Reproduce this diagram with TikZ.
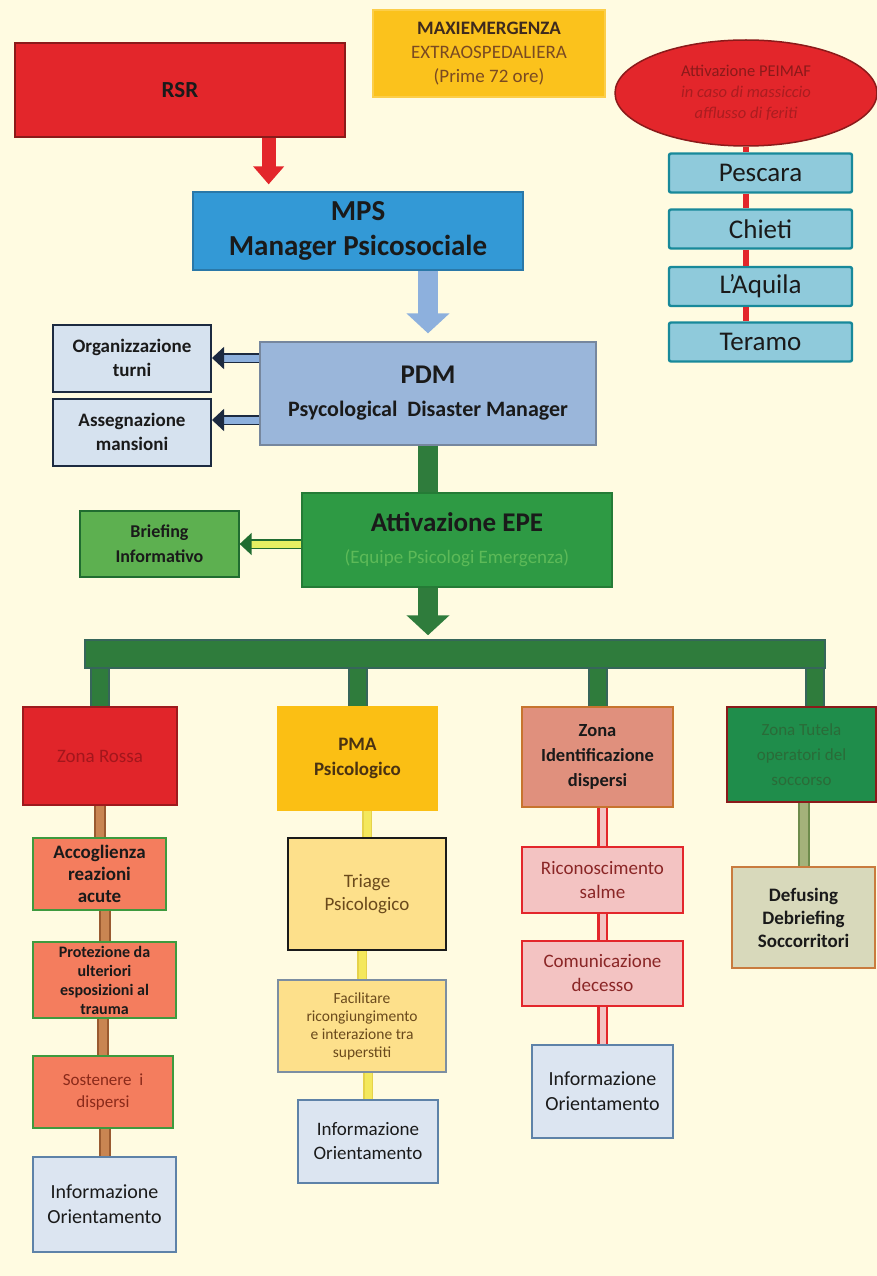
\documentclass[tikz,border=0pt]{standalone}
\usepackage{fontspec}
\setmainfont{Carlito}
\usepackage{tikz}
\usetikzlibrary{arrows.meta,positioning,shapes,calc}
\definecolor{paper}{HTML}{FFFBE1}
\definecolor{ink}{HTML}{1A1A1A}
\definecolor{rsrred}{HTML}{E3262B}
\definecolor{darkred}{HTML}{8B1A1A}
\definecolor{titleyel}{HTML}{FBC21C}
\definecolor{titleink}{HTML}{3E2A1E}
\definecolor{titlebrown}{HTML}{7A4A22}
\definecolor{mpsblue}{HTML}{3399D6}
\definecolor{mpsedge}{HTML}{2A78A8}
\definecolor{pdmblue}{HTML}{9AB6DA}
\definecolor{pdmedge}{HTML}{76879E}
\definecolor{arrowblue}{HTML}{8DB0DD}
\definecolor{paleblue}{HTML}{D6E2EF}
\definecolor{navy}{HTML}{1C2A40}
\definecolor{epegreen}{HTML}{2E9A44}
\definecolor{epetxt}{HTML}{5DBA58}
\definecolor{brfgreen}{HTML}{5DB050}
\definecolor{briefyel}{HTML}{E6F062}
\definecolor{bargreen}{HTML}{2F7C3C}
\definecolor{stubedge}{HTML}{36665A}
\definecolor{zonered}{HTML}{E1252A}
\definecolor{zoneredtxt}{HTML}{A3161C}
\definecolor{pmayel}{HTML}{FBBF14}
\definecolor{pmaink}{HTML}{4A3212}
\definecolor{salmon}{HTML}{E0907D}
\definecolor{salmonedge}{HTML}{C7742E}
\definecolor{tutgreen}{HTML}{1F8D4B}
\definecolor{tutink}{HTML}{2A6B38}
\definecolor{coral}{HTML}{F47D5E}
\definecolor{coraledge}{HTML}{3E9A3E}
\definecolor{rossink}{HTML}{8A2A1A}
\definecolor{infoblue}{HTML}{DCE5F1}
\definecolor{infoedge}{HTML}{5E82A8}
\definecolor{lightyel}{HTML}{FDE08B}
\definecolor{faciledge}{HTML}{7C8EA2}
\definecolor{triageink}{HTML}{6A4A1C}
\definecolor{rosebg}{HTML}{F3C3C2}
\definecolor{lutink}{HTML}{8A2626}
\definecolor{khakibg}{HTML}{D8D9BB}
\definecolor{khakiedge}{HTML}{C97B3E}
\definecolor{tealbg}{HTML}{8FCADB}
\definecolor{tealedge}{HTML}{18899A}
\definecolor{rosslinkfill}{HTML}{C98552}
\definecolor{rosslinkedge}{HTML}{9A5A30}
\definecolor{pmalinkfill}{HTML}{F4E85C}
\definecolor{pmalinkedge}{HTML}{E6D24A}
\definecolor{tutlinkfill}{HTML}{A4B27A}
\definecolor{tutlinkedge}{HTML}{6E8C4C}
\tikzset{
  card/.style={
    draw, rectangle, align=center, inner sep=2pt, line width=1.3pt, text=ink
  },
  titlecard/.style={
    card, draw=titleyel!80!white, fill=titleyel, text=titlebrown,
    minimum width=232pt, minimum height=87pt, font=\fontsize{19}{24}\selectfont
  },
  rsrcard/.style={
    card, draw=darkred, fill=rsrred, minimum width=330pt, minimum height=94pt,
    font=\bfseries\fontsize{23}{28}\selectfont
  },
  mpscard/.style={
    card, draw=mpsedge, fill=mpsblue, minimum width=330pt, minimum height=78pt,
    font=\bfseries\fontsize{29}{35}\selectfont
  },
  pdmcard/.style={
    card, draw=pdmedge, fill=pdmblue, minimum width=336pt, minimum height=103pt,
    font=\bfseries\fontsize{22}{33}\selectfont
  },
  taskcard/.style={
    card, draw=navy, line width=2pt, fill=paleblue, minimum width=158pt,
    minimum height=67pt, font=\bfseries\fontsize{19}{24}\selectfont
  },
  epecard/.style={
    card, draw=epegreen!80!black, fill=epegreen, minimum width=310pt,
    minimum height=94pt, font=\fontsize{19}{32}\selectfont
  },
  briefcard/.style={
    card, draw=epegreen!70!black, fill=brfgreen, minimum width=159pt,
    minimum height=66pt, font=\bfseries\fontsize{18}{25}\selectfont
  },
  peimafcard/.style={
    ellipse, draw=darkred, line width=1.5pt, fill=rsrred, inner sep=0pt,
    minimum width=262pt, minimum height=106pt, align=center, text=darkred,
    font=\fontsize{16.5}{21}\selectfont
  },
  citycard/.style={
    card, draw=tealedge, line width=2.4pt, fill=tealbg, rounded corners=2pt,
    minimum width=183pt, minimum height=39pt, font=\fontsize{27}{30}\selectfont
  },
  rosscard/.style={
    card, draw=coraledge, line width=1.8pt, fill=coral, inner sep=1pt,
    minimum width=140pt
  },
  infocard/.style={
    card, draw=infoedge, line width=1.8pt, fill=infoblue,
    font=\fontsize{20}{25}\selectfont
  },
  lutcard/.style={
    card, draw=rsrred, line width=2.2pt, fill=rosebg, text=lutink,
    minimum width=161pt, font=\fontsize{19}{24}\selectfont
  },
  fatarrow/.style n args={3}{line width=#1, -{Triangle[width=#2,length=#3]}},
  dblarrow/.style={
    line width=1.6pt, draw=navy, double=arrowblue, double distance=7pt,
    -{Triangle[width=22pt,length=12pt]}
  },
  stub/.style={line width=2pt, draw=stubedge, double=bargreen, double distance=16pt},
  rosslink/.style={line width=2pt, draw=rosslinkedge, double=rosslinkfill, double distance=8pt},
  pmalink/.style={line width=1.5pt, draw=pmalinkedge, double=pmalinkfill, double distance=7pt},
  lutlink/.style={line width=2.2pt, draw=rsrred, double=rosebg, double distance=6pt},
  tutlink/.style={line width=2pt, draw=tutlinkedge, double=tutlinkfill, double distance=8pt},
  citylink/.style={line width=6pt, draw=rsrred}
}
\begin{document}
\begin{tikzpicture}[x=1pt,y=-1pt,>=Latex]
  \fill[paper] (0,0) rectangle (877,1276);
  \useasboundingbox (0,0) rectangle (877,1276);

  % top
  \node[titlecard] (title) at (489,53.5) {{\bfseries\color{titleink}MAXIEMERGENZA}\\EXTRAOSPEDALIERA\\(Prime 72 ore)};
  \node[rsrcard] (rsr) at (180,90) {RSR};
  \node[mpscard] (mps) at (358,231) {MPS\\Manager Psicosociale};
  \node[pdmcard] (pdm) at (428,393.5) {{\fontsize{27}{30}\selectfont PDM}\\Psycological\ \ Disaster Manager};
  \node[taskcard] (org) at (132,358) {Organizzazione\\turni};
  \node[taskcard] (asg) at (132,432) {Assegnazione\\mansioni};
  \node[epecard] (epe) at (457,540) {{\bfseries\fontsize{27}{30}\selectfont Attivazione EPE}\\{\color{epetxt}(Equipe Psicologi Emergenza)}};
  \node[briefcard] (brief) at (159.5,544) {Briefing\\Informativo};

  % PEIMAF
  \node[peimafcard] (peimaf) at (746,93) {Attivazione PEIMAF\\{\itshape\color{rsrred!75!black}in caso di massiccio}\\{\itshape\color{rsrred!75!black}afflusso di feriti}};
  \foreach \n/\lab/\y in {pe/Pescara/173,ch/Chieti/229,aq/L'Aquila/286.5,te/Teramo/342}
    \node[citycard] (\n) at (760.5,\y) {\lab};

  % bar
  \node[draw=stubedge, line width=1.5pt, fill=bargreen, minimum width=740pt, minimum height=28pt, inner sep=0pt] (bar) at (455,654) {};

  % zones
  \node[card, draw=zonered!70!black, fill=zonered, text=zoneredtxt, minimum width=154pt, minimum height=98pt, font=\fontsize{19}{23}\selectfont] (zr) at (100,756) {Zona Rossa};
  \node[card, draw=pmayel, fill=pmayel, text=pmaink, minimum width=159pt, minimum height=103pt, font=\bfseries\fontsize{19}{25}\selectfont] (pma) at (357.5,758.5) {PMA\\Psicologico};
  \node[card, draw=salmonedge, line width=2pt, fill=salmon, minimum width=151pt, minimum height=100pt, font=\bfseries\fontsize{18.5}{25}\selectfont] (zi) at (597.5,757) {Zona\\Identificazione\\dispersi};
  \node[card, draw=darkred, line width=2pt, fill=tutgreen, text=tutink, minimum width=149pt, minimum height=95pt, font=\fontsize{17}{25}\selectfont] (zt) at (801.5,754.5) {Zona Tutela\\operatori del\\soccorso};

  % column 1
  \node[rosscard, minimum width=133pt, minimum height=72pt, font=\bfseries\fontsize{19}{22}\selectfont] (acc) at (99.5,874) {Accoglienza\\reazioni\\acute};
  \node[rosscard, minimum width=143pt, minimum height=76pt, font=\bfseries\fontsize{16}{19}\selectfont] (prot) at (104.5,980) {Protezione da\\ulteriori\\esposizioni al\\trauma};
  \node[rosscard, minimum width=140pt, minimum height=72pt, text=rossink, font=\fontsize{17}{22}\selectfont] (sost) at (103,1092) {Sostenere\ \ i\\dispersi};
  \node[infocard, minimum width=143pt, minimum height=95pt] (info1) at (104.5,1204.5) {Informazione\\Orientamento};

  % column 2
  \node[card, draw=ink, line width=2.2pt, fill=lightyel, text=triageink, minimum width=158pt, minimum height=112pt, font=\fontsize{19}{23}\selectfont] (triage) at (367,894) {Triage\\Psicologico};
  \node[card, draw=faciledge, line width=2pt, fill=lightyel, text=triageink, minimum width=168pt, minimum height=92pt, font=\fontsize{15.5}{18}\selectfont] (facil) at (362,1026) {Facilitare\\ricongiungimento\\e interazione tra\\superstiti};
  \node[infocard, minimum width=140pt, minimum height=83pt, font=\fontsize{19}{24}\selectfont] (info2) at (368,1141.5) {Informazione\\Orientamento};

  % column 3
  \node[lutcard, minimum height=66pt] (ricon) at (602.5,880) {Riconoscimento\\salme};
  \node[lutcard, minimum height=65pt] (comun) at (602.5,973.5) {Comunicazione\\decesso};
  \node[infocard, minimum width=141pt, minimum height=93pt] (info3) at (602.5,1091.5) {Informazione\\Orientamento};

  % column 4
  \node[card, draw=khakiedge, line width=2pt, fill=khakibg, minimum width=143pt, minimum height=101pt, font=\bfseries\fontsize{19}{23}\selectfont] (defus) at (803.5,917.5) {Defusing\\Debriefing\\Soccorritori};

  % arrows
  \coordinate (rsrout) at ([xshift=-77pt]rsr.south east);
  \draw[fatarrow={14pt}{30pt}{18pt}, draw=rsrred, shorten >=7pt] (rsrout) -- (rsrout |- mps.north);
  \draw[fatarrow={20pt}{42pt}{20pt}, draw=arrowblue, shorten >=8pt] (mps.south -| pdm.north) -- (pdm.north);
  \draw[dblarrow] (pdm.west |- org.east) -- (org.east);
  \coordinate (asgin) at ([yshift=12pt]asg.east);
  \draw[dblarrow] (pdm.west |- asgin) -- (asgin);
  \draw[line width=20pt, draw=bargreen] (pdm.south) -- (pdm.south |- epe.north);
  \draw[dblarrow, draw=epegreen!70!black, double=briefyel] (epe.west |- brief.east) -- (brief.east);
  \draw[fatarrow={20pt}{42pt}{20pt}, draw=bargreen, shorten >=4pt] (epe.south -| pdm.south) -- (bar.north -| pdm.south);

  % bar to zones
  \foreach \z in {zr,pma,zi}
    \draw[stub] (bar.south -| \z.north) -- (\z.north);
  \coordinate (ztin) at ([xshift=13pt]zt.north);
  \draw[stub] (bar.south -| ztin) -- (ztin);

  % column links
  \foreach \a/\b in {zr/acc,acc/prot,prot/sost,sost/info1}
    \draw[rosslink] (\b.north |- \a.south) -- (\b.north);
  \foreach \a/\b in {pma/triage,triage/facil,facil/info2}
    \draw[pmalink] (\b.north |- \a.south) -- (\b.north);
  \foreach \a/\b in {zi/ricon,ricon/comun,comun/info3}
    \draw[lutlink] (\b.north |- \a.south) -- (\b.north);
  \draw[tutlink] (defus.north |- zt.south) -- (defus.north);

  % PEIMAF chain
  \draw[citylink] (peimaf.south) -- (peimaf.south |- pe.north);
  \foreach \a/\b in {pe/ch,ch/aq,aq/te}
    \draw[citylink] (peimaf.south |- \a.south) -- (peimaf.south |- \b.north);
\end{tikzpicture}
\end{document}
